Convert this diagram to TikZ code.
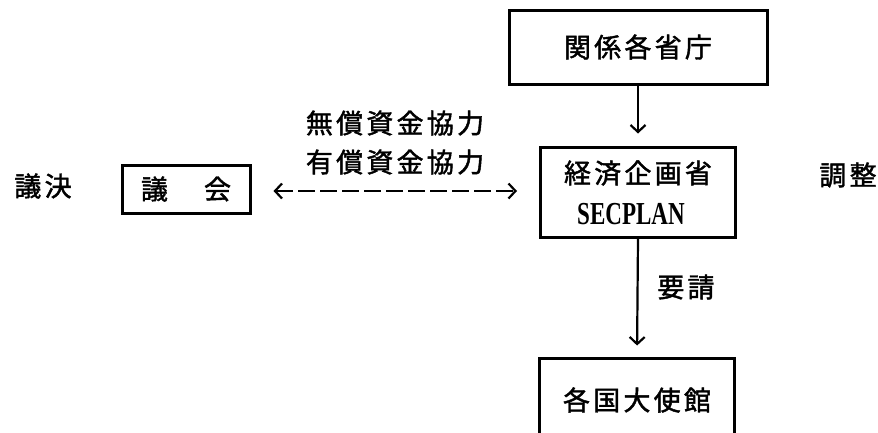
\documentclass[tikz,border=0pt]{standalone}
\usepackage{fontspec}
\newfontfamily\jp[LetterSpace=12,FakeBold=1.6]{Noto Sans CJK JP}
\newfontfamily\lat{Liberation Serif}
\usetikzlibrary{arrows.meta}
\tikzset{
  box/.style={draw, line width=3pt, inner sep=0pt, align=center},
  lbl/.style={font=\jp\fontsize{27}{32}\selectfont, inner sep=0pt},
  barb/.tip={Straight Barb[length=7pt,width=15pt,line width=2.2pt]},
  conn/.style={line width=2.2pt, -barb},
}
\begin{document}
\begin{tikzpicture}[x=1pt,y=-1pt]
\useasboundingbox (0,0) rectangle (878,432);
\clip (0,0) rectangle (878,432);
\node[box, minimum width=258pt, minimum height=74pt, lbl] (kankei) at (638,47) {関係各省庁};
\node[box, minimum width=195pt, minimum height=90pt] (keizai) at (638,192) {};
\node[lbl] (keizaiA) at (638,173) {経済企画省};
\node[inner sep=0pt, font=\lat\bfseries\fontsize{32}{36}\selectfont] (secplan) at (631,214) {\scalebox{0.72}[1]{SECPLAN}};
\node[box, minimum width=195pt, minimum height=84pt, lbl] (taishi) at (637,400) {各国大使館};
\node[box, minimum width=128pt, minimum height=48pt, lbl] (gikai) at (186,189) {議\hspace{36pt}会};
\node[lbl] (giketsu) at (43,186) {議決};
\node[lbl] (musho) at (395,123) {無償資金協力};
\node[lbl] (yusho) at (395,162) {有償資金協力};
\node[lbl] (yosei) at (686,287) {要請};
\node[lbl] (chosei) at (848,175) {調整};
\draw[conn, shorten >=12pt] (kankei.south) -- (keizai.north);
\draw[conn, shorten >=11pt] (keizai.south) -- (taishi.north);
\draw[line width=2.4pt, dash pattern=on 17pt off 5pt, barb-barb,
  shorten <=22pt, shorten >=22pt] ([yshift=-2pt]gikai.east) -- ([yshift=-2pt]gikai.east -| keizai.west);
\end{tikzpicture}
\end{document}
